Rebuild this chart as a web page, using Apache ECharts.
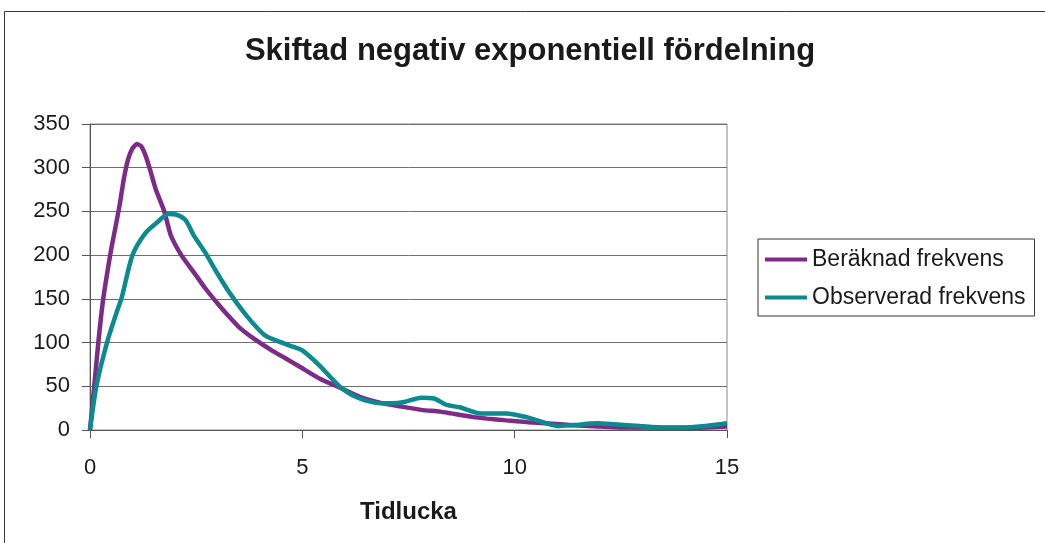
<!DOCTYPE html>
<html>
<head>
<meta charset="utf-8">
<script src="https://cdn.jsdelivr.net/npm/echarts@6/dist/echarts.min.js"></script>
<style>
  html, body { margin: 0; padding: 0; background: #ffffff; }
  #chart { width: 1045px; height: 543px; }
</style>
</head>
<body>
<div id="chart"></div>
<script>
// Titles and names
const titleText = 'Skiftad negativ exponentiell fördelning';
const xAxisName = 'Tidlucka';
const seriesNames = ['Beräknad frekvens', 'Observerad frekvens'];

// Axis ranges / ticks
const xTickStep = 5;
const xMax = 15;
const yTickStep = 50;
const yMax = 350;

// Calculated frequency (shifted negative exponential)
const calcX = [0, 0.1, 0.2, 0.3, 0.4, 0.5, 0.6, 0.7, 0.8, 0.9, 1.0, 1.1, 1.2, 1.3, 1.4, 1.55, 1.75, 1.9,
  2.15, 2.45, 2.7, 3.0, 3.25, 3.5, 3.9, 4.25, 4.6, 4.95, 5.4, 5.9, 6.35, 6.85, 7.3, 7.8, 8.25, 8.5,
  9.0, 9.35, 9.8, 10.3, 10.8, 11.5, 12.0, 12.5, 13.0, 13.5, 14.0, 14.5, 15.0];
const calcY = [0, 50, 102, 146, 178, 207, 232, 258, 288, 310, 322, 327, 325, 315, 300, 275, 250, 223,
  200, 180, 163, 145, 131, 118, 103, 92, 82, 72, 59, 48, 38, 31, 27, 23, 21, 19,
  15, 13, 11, 9, 7.5, 5, 4, 3, 3, 2.5, 2.5, 3, 4];

// Observed frequency
const obsX = [0, 0.15, 0.4, 0.63, 0.75, 1.0, 1.3, 1.57, 1.85, 2.05, 2.25, 2.45, 2.7, 3.0, 3.3, 3.7,
  4.1, 4.35, 4.8, 5.0, 5.4, 5.9, 6.35, 6.85, 7.1, 7.4, 7.8, 8.1, 8.4, 8.7, 9.2, 9.8, 10.3, 10.75,
  11.0, 11.4, 11.95, 12.35, 12.95, 13.5, 14.05, 14.5, 15.0];
const obsY = [0, 50, 100, 135, 152, 200, 225, 237, 247, 246, 240, 222, 204, 179, 156, 130,
  109, 103, 95, 91, 74, 49, 36, 30.5, 30.5, 32, 37, 36, 28.6, 26, 19, 19, 14.5, 7.6,
  4.6, 5.7, 7.6, 6.5, 4.6, 3, 3, 4.6, 7.6];

const seriesColors = ['#7e2a88', '#0b8b8f'];

const pairs = (xs, ys) => xs.map((x, i) => [x, ys[i]]);
const font = '"Liberation Sans", Arial, Helvetica, sans-serif';

const chart = echarts.init(document.getElementById('chart'), null, { renderer: 'canvas' });

chart.setOption({
  animation: false,
  backgroundColor: '#ffffff',
  textStyle: { fontFamily: font },
  graphic: [{
    type: 'rect',
    shape: { x: 4.5, y: 11.5, width: 1100, height: 600 },
    style: { fill: 'none', stroke: '#3a3a3a', lineWidth: 1 },
    silent: true,
    z: -1
  }],
  title: {
    text: titleText,
    left: 530,
    top: 36,
    padding: 0,
    textAlign: 'center',
    textStyle: { fontFamily: font, fontSize: 31, fontWeight: 'bold', color: '#1a1a1a' }
  },
  legend: {
    orient: 'vertical',
    left: 758,
    top: 239,
    padding: [9, 9, 7, 7],
    itemGap: 15,
    itemWidth: 42,
    itemHeight: 4,
    icon: 'rect',
    borderColor: '#333333',
    borderWidth: 1,
    textStyle: { fontFamily: font, fontSize: 23, color: '#1a1a1a' },
    data: seriesNames
  },
  grid: {
    left: 90,
    right: 318,
    top: 124,
    bottom: 113,
    show: true,
    borderColor: '#8a8a8a',
    borderWidth: 1,
    backgroundColor: 'transparent'
  },
  xAxis: {
    type: 'value',
    min: 0,
    max: xMax,
    interval: xTickStep,
    name: xAxisName,
    nameLocation: 'middle',
    nameGap: 70,
    nameTextStyle: { fontFamily: font, fontSize: 24, fontWeight: 'bold', color: '#1a1a1a' },
    axisLine: { show: true, onZero: false, lineStyle: { color: '#555555', width: 1 } },
    axisTick: { show: true, inside: false, length: 8, lineStyle: { color: '#555555' } },
    axisLabel: { margin: 27, fontFamily: font, fontSize: 22, color: '#1a1a1a' },
    splitLine: { show: false }
  },
  yAxis: {
    type: 'value',
    min: 0,
    max: yMax,
    interval: yTickStep,
    axisLine: { show: true, lineStyle: { color: '#555555', width: 1 } },
    axisTick: { show: true, inside: false, length: 8, lineStyle: { color: '#555555' } },
    axisLabel: { margin: 20, fontFamily: font, fontSize: 22, color: '#1a1a1a' },
    splitLine: { show: true, lineStyle: { color: '#6e6e6e', width: 1 } }
  },
  series: [
    {
      name: seriesNames[0],
      type: 'line',
      data: pairs(calcX, calcY),
      smooth: 0.2,
      symbol: 'none',
      color: seriesColors[0],
      lineStyle: { color: seriesColors[0], width: 4.5 },
      z: 3
    },
    {
      name: seriesNames[1],
      type: 'line',
      data: pairs(obsX, obsY),
      smooth: 0.25,
      symbol: 'none',
      color: seriesColors[1],
      lineStyle: { color: seriesColors[1], width: 4.5 },
      z: 4
    }
  ]
});
</script>
</body>
</html>
